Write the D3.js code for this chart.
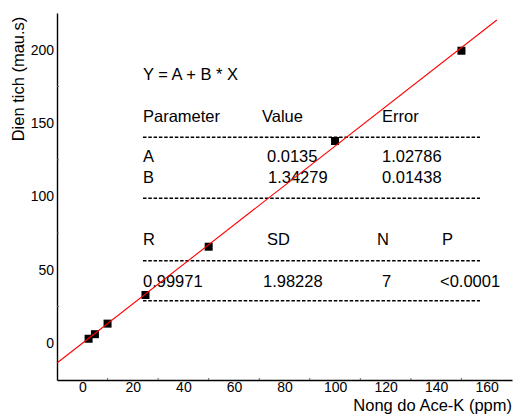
<!DOCTYPE html>
<html>
<head>
<meta charset="utf-8">
<script src="https://cdn.jsdelivr.net/npm/d3@7"></script>
<style>
  body { margin: 0; background: #fff; }
  text { font-family: "Liberation Sans", Arial, sans-serif; fill: #000; }
</style>
</head>
<body>
<div id="chart"></div>
<script>
// data
var concX = [2.5, 5, 10, 25, 50, 100, 150];
var areaY = [3.1, 6.2, 13.4, 32.9, 65.8, 137.8, 199.3];
var fitA = 0.0135;
var fitB = 1.34279;
var fitRange = [-10, 164];
var xTicks = [0, 20, 40, 60, 80, 100, 120, 140, 160];
var yTicks = [0, 50, 100, 150, 200];
var xMinor = [10, 30, 50, 70, 90, 110, 130, 150];
var yMinor = [25, 75, 125, 175];

// fit table rows
var tableRows = [
  ['Parameter', 'Value', 'Error'],
  ['A', '0.0135', '1.02786'],
  ['B', '1.34279', '0.01438'],
  ['R', 'SD', 'N', 'P'],
  ['0.99971', '1.98228', '7', '<0.0001']
];

var width = 513, height = 417;
var plotLeft = 57, plotRight = 512, plotTop = 13, plotBottom = 380;

var svg = d3.select('#chart')
  .append('svg')
    .attr('width', width)
    .attr('height', height);

var x = d3.scaleLinear().domain([-10, 170]).range([plotLeft, plotRight]);
var y = d3.scaleLinear().domain([-25, 225]).range([plotBottom, plotTop]);

// axes
var xAxis = svg.append('g')
    .attr('transform', 'translate(0,' + plotBottom + ')')
    .call(d3.axisBottom(x).tickValues(xTicks).tickSize(0).tickPadding(2));
var yAxis = svg.append('g')
    .attr('transform', 'translate(' + plotLeft + ',0)')
    .call(d3.axisLeft(y).tickValues(yTicks).tickSize(0).tickPadding(3));

[xAxis, yAxis].forEach(function(g) {
  g.select('.domain').attr('stroke', '#000').attr('stroke-width', 1.4);
  g.selectAll('text')
    .style('font-family', '"Liberation Sans", Arial, sans-serif')
    .style('font-size', '14px')
    .attr('fill', '#000');
});

// tiny minor ticks pointing inside
svg.selectAll('.xminor')
  .data(xMinor)
  .enter()
  .append('line')
    .attr('x1', function(d) { return x(d); })
    .attr('x2', function(d) { return x(d); })
    .attr('y1', plotBottom)
    .attr('y2', plotBottom - 2)
    .attr('stroke', '#666')
    .attr('stroke-width', 1);
svg.selectAll('.yminor')
  .data(yMinor)
  .enter()
  .append('line')
    .attr('x1', plotLeft)
    .attr('x2', plotLeft + 2)
    .attr('y1', function(d) { return y(d); })
    .attr('y2', function(d) { return y(d); })
    .attr('stroke', '#666')
    .attr('stroke-width', 1);

// axis titles
svg.append('text')
    .attr('x', plotRight)
    .attr('y', 410.5)
    .attr('text-anchor', 'end')
    .style('font-size', '16.5px')
    .text('Nong do Ace-K (ppm)');
svg.append('text')
    .attr('transform', 'translate(24,79) rotate(-90)')
    .attr('text-anchor', 'middle')
    .style('font-size', '16.5px')
    .text('Dien tich (mau.s)');

// fit table
var rowY = [121.5, 161.7, 183.3, 245, 286.7];
var colXBody = [[143, 262, 382], [143, 267, 382], [143, 268, 382], [143, 267, 377, 442], [143, 263, 382, 440]];

svg.append('text')
    .attr('x', 143)
    .attr('y', 80)
    .style('font-size', '16.5px')
    .text('Y = A + B * X');

tableRows.forEach(function(row, i) {
  row.forEach(function(cell, j) {
    svg.append('text')
        .attr('x', colXBody[i][j])
        .attr('y', rowY[i])
        .style('font-size', '16.5px')
        .text(cell);
  });
});

var dashY = [137.3, 198.3, 260.7, 300.7];
svg.selectAll('.dash')
  .data(dashY)
  .enter()
  .append('line')
    .attr('x1', 143)
    .attr('x2', 480)
    .attr('y1', function(d) { return d; })
    .attr('y2', function(d) { return d; })
    .attr('stroke', '#000')
    .attr('stroke-width', 1.5)
    .attr('stroke-dasharray', '3.5,1.8');

// data points
var sq = 8;
svg.selectAll('.pt')
  .data(concX)
  .enter()
  .append('rect')
    .attr('x', function(d) { return x(d) - sq / 2; })
    .attr('y', function(d, i) { return y(areaY[i]) - sq / 2; })
    .attr('width', sq)
    .attr('height', sq)
    .attr('fill', '#000');

// fitted line
var line = d3.line()
    .x(function(d) { return x(d); })
    .y(function(d) { return y(fitA + fitB * d); });
svg.append('path')
    .datum(fitRange)
    .attr('d', line)
    .attr('fill', 'none')
    .attr('stroke', '#ff0000')
    .attr('stroke-width', 1.1);
</script>
</body>
</html>
